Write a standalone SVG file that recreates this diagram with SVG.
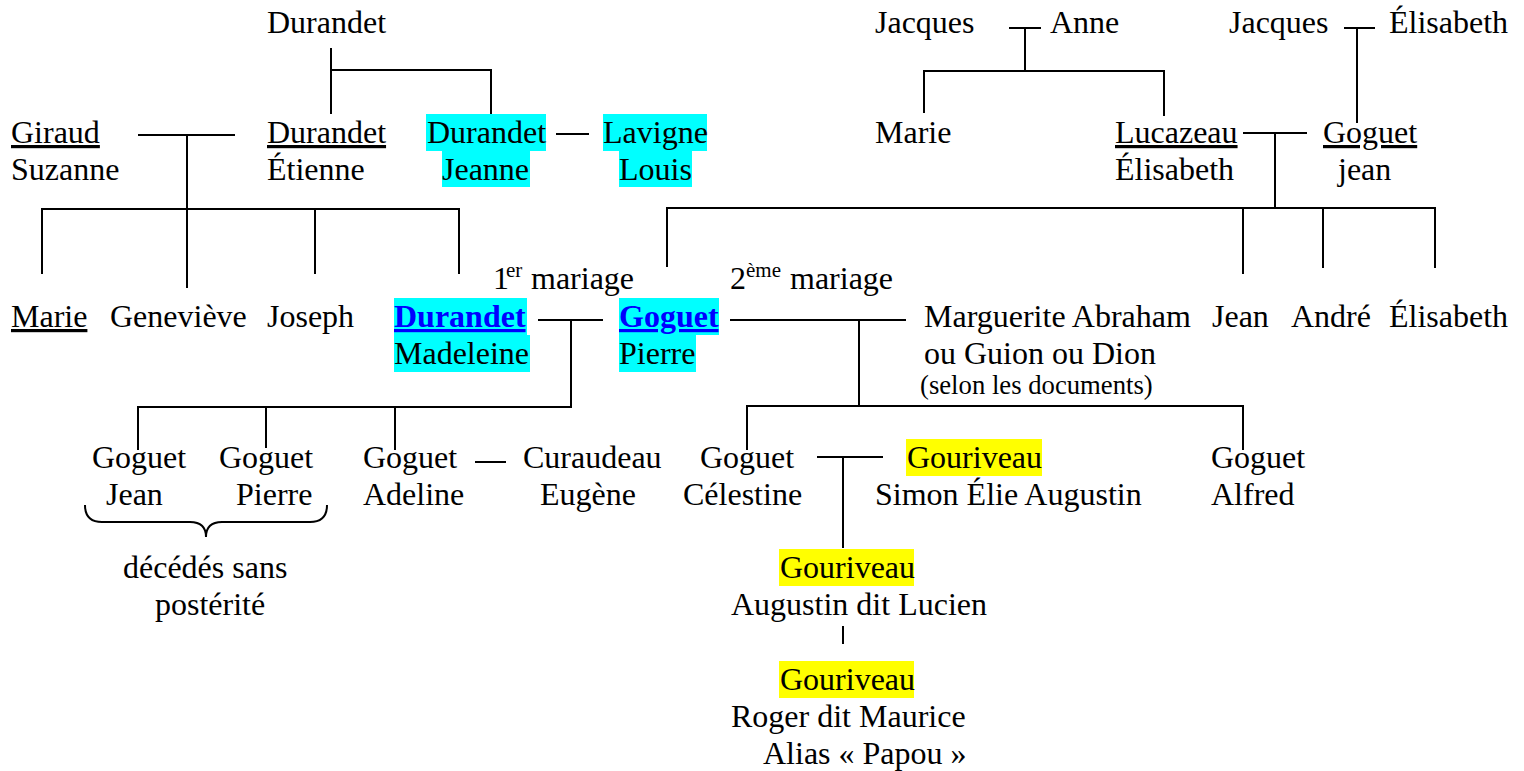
<svg xmlns="http://www.w3.org/2000/svg" width="1524" height="771" viewBox="0 0 1524 771">
<style>
text{font-family:"Liberation Serif","Times New Roman",serif;font-size:32px;fill:#000}
.u{text-decoration:underline}
.b{font-weight:bold;fill:#0000FF;text-decoration:underline}
.sup{font-size:21px}
.sm{font-size:26.7px}
.cy{fill:#00FFFF}
.ye{fill:#FFFF00}
.ln{fill:none;stroke:#000;stroke-width:2}
</style>
<rect width="1524" height="771" fill="#fff"/>
<g id="connectors" class="ln">
<path d="M331 48V114M331 70H491V114"/>
<path d="M138 135H235M187 135V288M42 274V209H459V274M315 209V274"/>
<path d="M556 134H589"/>
<path d="M1009 28H1041M1025 28V71M924 113V71H1164V116"/>
<path d="M1344 28H1375M1357 28V123"/>
<path d="M1243 133H1307M1275 133V208M667 267V208H1435V268M1243 208V274M1323 208V268"/>
<path d="M538 320H603M571 320V407H138V450M266 407V448M395 407V450"/>
<path d="M730 320H906M859 320V407M747 450V406H1243V450"/>
<path d="M475 462H506"/>
<path d="M817 457H883M843 457V548"/>
<path d="M843 626V644"/>
<path d="M85 505Q85 522 102 522H190Q206 522 206 537Q206 522 222 522H310Q327 522 327 505"/>
</g>
<g id="n-durandet-top"><text x="267" y="33">Durandet</text></g>
<g id="n-jacques-anne"><text x="875" y="33">Jacques</text><text x="1050" y="33">Anne</text></g>
<g id="n-jacques-elisabeth"><text x="1229" y="33">Jacques</text><text x="1389" y="33">Élisabeth</text></g>
<g id="n-giraud"><text x="11" y="143" class="u">Giraud</text><text x="11" y="180">Suzanne</text></g>
<g id="n-durandet-etienne"><text x="267" y="143" class="u">Durandet</text><text x="267" y="180">Étienne</text></g>
<g id="n-durandet-jeanne"><rect class="cy" x="426" y="114" width="120" height="37"/><rect class="cy" x="442" y="151" width="88" height="36"/><text x="427" y="143">Durandet</text><text x="442" y="180">Jeanne</text></g>
<g id="n-lavigne"><rect class="cy" x="603" y="114" width="104" height="37"/><rect class="cy" x="619" y="151" width="73" height="36"/><text x="603" y="143">Lavigne</text><text x="619" y="180">Louis</text></g>
<g id="n-marie-top"><text x="875" y="143">Marie</text></g>
<g id="n-lucazeau"><text x="1115" y="143" class="u">Lucazeau</text><text x="1115" y="180">Élisabeth</text></g>
<g id="n-goguet-jean"><text x="1323" y="143" class="u">Goguet</text><text x="1338" y="180">jean</text></g>
<g id="l-mariage1"><text x="493" y="289">1</text><text x="506" y="277" class="sup">er</text><text x="531" y="289">mariage</text></g>
<g id="l-mariage2"><text x="730" y="289">2</text><text x="746" y="277" class="sup">ème</text><text x="790" y="289">mariage</text></g>
<g id="n-marie"><text x="11" y="327" class="u">Marie</text></g>
<g id="n-genevieve"><text x="110" y="327">Geneviève</text></g>
<g id="n-joseph"><text x="267" y="327">Joseph</text></g>
<g id="n-durandet-madeleine"><rect class="cy" x="394" y="298" width="133" height="37"/><rect class="cy" x="394" y="335" width="136" height="37"/><text x="394" y="327" class="b">Durandet</text><text x="394" y="364">Madeleine</text></g>
<g id="n-goguet-pierre"><rect class="cy" x="619" y="298" width="100" height="37"/><rect class="cy" x="619" y="335" width="77" height="37"/><text x="619" y="327" class="b">Goguet</text><text x="619" y="364">Pierre</text></g>
<g id="n-marguerite"><text x="924" y="327">Marguerite Abraham</text><text x="924" y="364">ou Guion ou Dion</text><text x="920" y="394" class="sm">(selon les documents)</text></g>
<g id="n-jean"><text x="1212" y="327">Jean</text></g>
<g id="n-andre"><text x="1291" y="327">André</text></g>
<g id="n-elisabeth"><text x="1389" y="327">Élisabeth</text></g>
<g id="n-goguet-jean2"><text x="92" y="468">Goguet</text><text x="106" y="505">Jean</text></g>
<g id="n-goguet-pierre2"><text x="219" y="468">Goguet</text><text x="236" y="505">Pierre</text></g>
<g id="n-goguet-adeline"><text x="363" y="468">Goguet</text><text x="363" y="505">Adeline</text></g>
<g id="n-curaudeau"><text x="523" y="468">Curaudeau</text><text x="540" y="505">Eugène</text></g>
<g id="n-goguet-celestine"><text x="700" y="468">Goguet</text><text x="683" y="505">Célestine</text></g>
<g id="n-gouriveau-simon"><rect class="ye" x="906" y="439" width="136" height="37"/><text x="907" y="468">Gouriveau</text><text x="875" y="505">Simon Élie Augustin</text></g>
<g id="n-goguet-alfred"><text x="1211" y="468">Goguet</text><text x="1211" y="505">Alfred</text></g>
<g id="l-deces"><text x="123" y="578">décédés sans</text><text x="155" y="615">postérité</text></g>
<g id="n-gouriveau-augustin"><rect class="ye" x="779" y="549" width="135" height="37"/><text x="780" y="578">Gouriveau</text><text x="731" y="615">Augustin dit Lucien</text></g>
<g id="n-gouriveau-roger"><rect class="ye" x="779" y="661" width="135" height="37"/><text x="780" y="690">Gouriveau</text><text x="731" y="727">Roger dit Maurice</text><text x="763" y="764">Alias « Papou »</text></g>
</svg>
